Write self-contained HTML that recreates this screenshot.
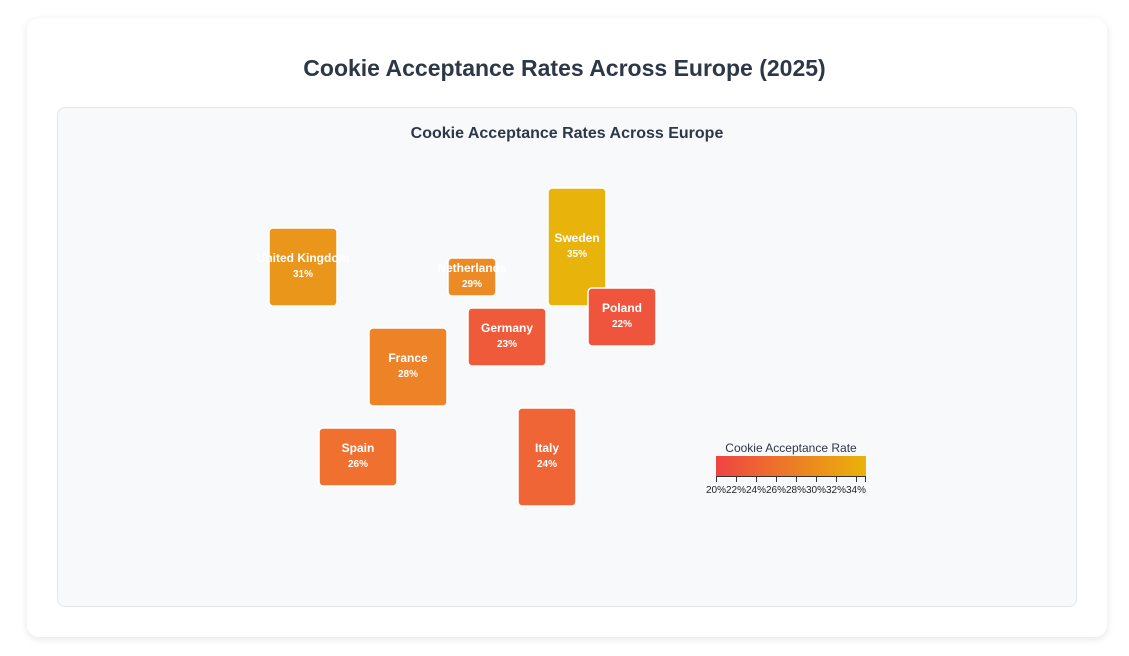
<!DOCTYPE html>
<html><head><style>
body{margin:0;background:#f3f4f6;font-family:"Liberation Sans",sans-serif;}
.card{position:absolute;left:27px;top:18px;width:1080px;height:619px;background:#fff;border-radius:12px;box-shadow:0 2px 8px rgba(0,0,0,0.1);}
h1{position:absolute;left:0;width:100%;top:55px;margin:0;text-align:center;font-size:23px;font-weight:bold;color:#2d3748;}
.panel{position:absolute;left:57px;top:107px;width:1018px;height:498px;background:#f8f9fb;border:1px solid #e2e5ea;border-radius:8px;}
</style></head><body>
<div style="position:absolute;inset:0;background:#fff"></div>
<div class="card"></div>
<h1>Cookie Acceptance Rates Across Europe (2025)</h1>
<div class="panel"></div>
<svg width="1129" height="656" style="position:absolute;left:0;top:0" font-family="Liberation Sans, sans-serif">
<defs><linearGradient id="g"><stop offset="0" stop-color="#ef4444"/><stop offset="1" stop-color="#eab308"/></linearGradient></defs>
<text x="567" y="138" text-anchor="middle" font-size="16" font-weight="bold" fill="#2d3748">Cookie Acceptance Rates Across Europe</text>
<g stroke="#fff" stroke-width="1.5">
<rect x="269" y="228" width="68" height="78" rx="4" fill="#e9961b"/>
<rect x="448" y="258" width="48" height="38" rx="4" fill="#ec8a26"/>
<rect x="548" y="188" width="58" height="118" rx="4" fill="#e8b40c"/>
<rect x="588" y="288" width="68" height="58" rx="4" fill="#ef553c"/>
<rect x="468" y="308" width="78" height="58" rx="4" fill="#ef5a3a"/>
<rect x="369" y="328" width="78" height="78" rx="4" fill="#ee8226"/>
<rect x="319" y="428" width="78" height="58" rx="4" fill="#f07030"/>
<rect x="518" y="408" width="58" height="98" rx="4" fill="#f06535"/>
</g>
<g fill="#fff" text-anchor="middle" font-weight="bold">
<text x="303" y="262" font-size="12">United Kingdom</text><text x="303" y="277" font-size="10">31%</text>
<text x="472" y="272" font-size="12">Netherlands</text><text x="472" y="287" font-size="10">29%</text>
<text x="577" y="242" font-size="12">Sweden</text><text x="577" y="257" font-size="10">35%</text>
<text x="622" y="312" font-size="12">Poland</text><text x="622" y="327" font-size="10">22%</text>
<text x="507" y="332" font-size="12">Germany</text><text x="507" y="347" font-size="10">23%</text>
<text x="408" y="362" font-size="12">France</text><text x="408" y="377" font-size="10">28%</text>
<text x="358" y="452" font-size="12">Spain</text><text x="358" y="467" font-size="10">26%</text>
<text x="547" y="452" font-size="12">Italy</text><text x="547" y="467" font-size="10">24%</text>
</g>
<text x="791" y="452" text-anchor="middle" font-size="12" fill="#2d3748">Cookie Acceptance Rate</text>
<rect x="716" y="456" width="150" height="20" fill="url(#g)"/>
<g stroke="#333" stroke-width="1">
<line x1="716" y1="476.5" x2="866" y2="476.5"/>
<line x1="716.5" y1="476" x2="716.5" y2="482"/><line x1="736.5" y1="476" x2="736.5" y2="482"/><line x1="756.5" y1="476" x2="756.5" y2="482"/><line x1="776.5" y1="476" x2="776.5" y2="482"/><line x1="796.5" y1="476" x2="796.5" y2="482"/><line x1="816.5" y1="476" x2="816.5" y2="482"/><line x1="836.5" y1="476" x2="836.5" y2="482"/><line x1="856.5" y1="476" x2="856.5" y2="482"/><line x1="865.5" y1="476" x2="865.5" y2="482"/>
</g>
<g font-size="10" fill="#222" text-anchor="middle">
<text x="716" y="493">20%</text><text x="736" y="493">22%</text><text x="756" y="493">24%</text><text x="776" y="493">26%</text><text x="796" y="493">28%</text><text x="816" y="493">30%</text><text x="836" y="493">32%</text><text x="856" y="493">34%</text>
</g>
</svg>
</body></html>
